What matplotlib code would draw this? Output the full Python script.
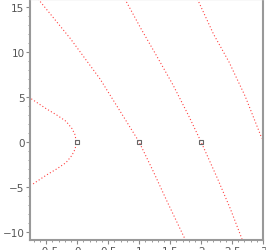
import numpy as np
import matplotlib.pyplot as plt
from matplotlib.ticker import MultipleLocator

# curve values
a_y = [4.8, 3.7, 3.0, 2.3, 1.5, 0.75, 0.0, -0.75, -1.5, -2.3, -3.0, -3.7, -4.8]
a_x = [-0.74, -0.50, -0.33, -0.18, -0.085, -0.03, -0.02,
       -0.03, -0.085, -0.18, -0.33, -0.50, -0.74]

b_x = [-0.63, -0.11, 0.37, 0.74, 1.0, 1.23, 1.45, 1.74]
b_y = [15.9, 11.5, 7.0, 2.9, 0.0, -3.3, -6.6, -10.8]

c_x = [0.77, 1.03, 1.28, 1.55, 1.80, 2.0, 2.26, 2.47, 2.66]
c_y = [15.9, 12.6, 9.6, 6.3, 2.9, 0.0, -4.0, -7.4, -10.8]

d_x = [1.94, 2.20, 2.45, 2.71, 2.98]
d_y = [15.9, 12.0, 8.9, 5.1, 0.4]

pts_x = [0, 1, 2]
pts_y = [0, 0, 0]

fig = plt.figure(figsize=(2.66, 2.51), dpi=100)
ax = fig.add_axes([0.113, 0.04, 0.876, 0.96])

for xs, ys in [(a_x, a_y), (b_x, b_y), (c_x, c_y), (d_x, d_y)]:
    ax.plot(xs, ys, color='red', alpha=0.75, lw=0.8, ls=(0, (1, 2)))
ax.plot(pts_x, pts_y, 's', mfc='none', mec='#666666', ms=3.5, mew=0.8)

ax.set_xlim(-0.76, 3.0)
ax.set_ylim(-10.9, 15.9)
ax.xaxis.set_major_locator(MultipleLocator(0.5))
ax.xaxis.set_minor_locator(MultipleLocator(0.1))
ax.yaxis.set_major_locator(MultipleLocator(5))
ax.yaxis.set_minor_locator(MultipleLocator(1))
ax.xaxis.set_major_formatter(plt.FuncFormatter(lambda v, p: ('%g' % v).replace('-', '\u2212')))

ax.tick_params(which='major', length=3, width=0.8, color='#888888', labelsize=7.5,
               labelcolor='#555555', pad=1)
ax.tick_params(which='minor', length=1.5, width=0.6, color='#888888')
for s in ['left', 'bottom', 'right']:
    ax.spines[s].set_color('#999999')
    ax.spines[s].set_linewidth(1.5)
ax.spines['top'].set_color('#dddddd')
ax.spines['top'].set_linewidth(1)

fig.savefig('out.png', dpi=100)
